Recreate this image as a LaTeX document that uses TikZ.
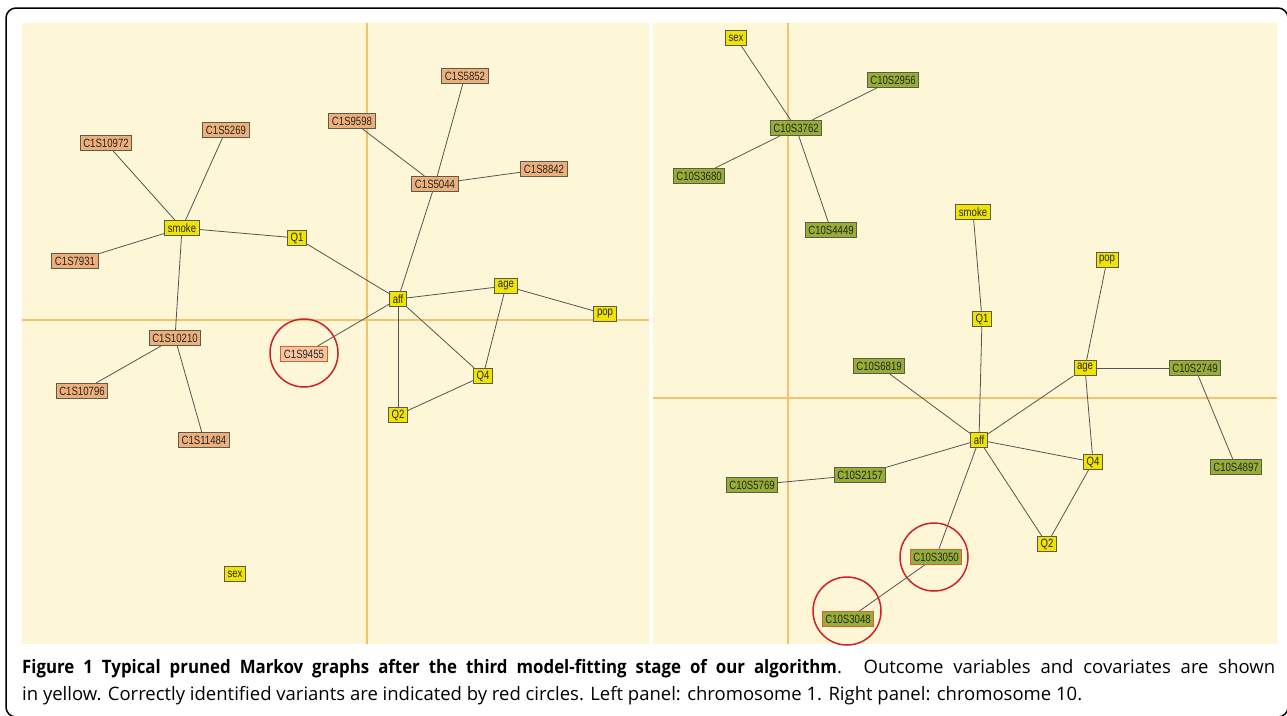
\documentclass[tikz,border=0pt]{standalone}
\usepackage{fontspec}
\setmainfont{Open Sans}[BoldFeatures={FakeStretch=0.91}]
\newfontfamily\boxfont[FakeStretch=0.8]{Liberation Sans}
\usepackage{tikz}
\definecolor{panelbg}{RGB}{253,247,215}
\definecolor{crossline}{RGB}{240,196,110}
\definecolor{covaryellow}{RGB}{240,228,0}
\definecolor{chronepeach}{RGB}{238,176,122}
\definecolor{hitpeach}{RGB}{248,198,160}
\definecolor{chrtengreen}{RGB}{150,174,52}
\definecolor{hitred}{RGB}{208,32,40}
\definecolor{hitedge}{RGB}{215,95,50}
\definecolor{boxline}{RGB}{90,90,80}
\definecolor{linkgray}{RGB}{85,85,80}
\tikzstyle{varnode}   = [draw=boxline, line width=1pt, font=\boxfont\fontsize{12}{12}\selectfont, inner xsep=3pt, inner ysep=0pt, minimum height=15pt, text=black!85]
\tikzstyle{covar}     = [varnode, fill=covaryellow]
\tikzstyle{snpone}    = [varnode, fill=chronepeach]
\tikzstyle{snpten}    = [varnode, fill=chrtengreen]
\tikzstyle{link}      = [draw=linkgray, line width=0.8pt]
\tikzstyle{ring}      = [draw=hitred, line width=1.5pt, circle, minimum size=68pt, inner sep=0pt]
\tikzstyle{cross}     = [draw=crossline, line width=1.5pt]
\tikzstyle{captext}   = [anchor=base west, inner sep=0pt, font=\fontsize{18.5}{22}\selectfont, text=black]

\begin{document}
\begin{tikzpicture}[x=1pt,y=-1pt]
		\useasboundingbox (0,0) rectangle (1287,715);
		\clip (0,0) rectangle (1287,715);
		\draw[line width=1.5pt, rounded corners=10pt] (6,8) rectangle (1288,717);

		% panels
		\fill[panelbg] (22,23) rectangle (649,644);
		\fill[panelbg] (653,23) rectangle (1277,644);
		\draw[cross] (367,23) -- (367,644);
		\draw[cross] (22,320) -- (649,320);
		\draw[cross] (788,23) -- (788,644);
		\draw[cross] (653,398) -- (1277,398);

		% left panel: chromosome 1
		\node[snpone] (c1s5852) at (465,76) {C1S5852};
		\node[snpone] (c1s9598) at (352,121) {C1S9598};
		\node[snpone] (c1s5269) at (226,130) {C1S5269};
		\node[snpone] (c1s10972) at (106,143) {C1S10972};
		\node[snpone] (c1s8842) at (544,169) {C1S8842};
		\node[snpone] (c1s5044) at (435,184) {C1S5044};
		\node[covar] (lsmoke) at (182,228) {smoke};
		\node[covar] (lqone) at (297,238) {Q1};
		\node[snpone] (c1s7931) at (75,261) {C1S7931};
		\node[covar] (laff) at (398,299) {aff};
		\node[covar] (lage) at (506,286) {age};
		\node[covar] (lpop) at (605,314) {pop};
		\node[snpone] (c1s10210) at (175,338) {C1S10210};
		\node[snpone, fill=hitpeach, draw=hitedge] (c1s9455) at (304,354) {C1S9455};
		\node[covar] (lqfour) at (483,376) {Q4};
		\node[snpone] (c1s10796) at (82,391) {C1S10796};
		\node[covar] (lqtwo) at (398,415) {Q2};
		\node[snpone] (c1s11484) at (204,440) {C1S11484};
		\node[covar] (lsex) at (235,574) {sex};

		\draw[link] (c1s10972) -- (lsmoke);
		\draw[link] (c1s5269) -- (lsmoke);
		\draw[link] (lsmoke) -- (c1s7931);
		\draw[link] (lsmoke) -- (lqone);
		\draw[link] (lsmoke) -- (c1s10210);
		\draw[link] (lqone) -- (laff);
		\draw[link] (c1s9598) -- (c1s5044);
		\draw[link] (c1s5852) -- (c1s5044);
		\draw[link] (c1s5044) -- (c1s8842);
		\draw[link] (c1s5044) -- (laff);
		\draw[link] (laff) -- (lage);
		\draw[link] (lage) -- (lpop);
		\draw[link] (lage) -- (lqfour);
		\draw[link] (laff) -- (lqfour);
		\draw[link] (laff) -- (lqtwo);
		\draw[link] (lqtwo) -- (lqfour);
		\draw[link] (laff) -- (c1s9455);
		\draw[link] (c1s10210) -- (c1s10796);
		\draw[link] (c1s10210) -- (c1s11484);

		% right panel: chromosome 10
		\node[covar] (rsex) at (736,38) {sex};
		\node[snpten] (c10s2956) at (893,80) {C10S2956};
		\node[snpten] (c10s3762) at (796,128) {C10S3762};
		\node[snpten] (c10s3680) at (699,176) {C10S3680};
		\node[snpten] (c10s4449) at (831,230) {C10S4449};
		\node[covar] (rsmoke) at (973,212) {smoke};
		\node[covar] (rpop) at (1107,260) {pop};
		\node[covar] (rqone) at (982,319) {Q1};
		\node[snpten] (c10s6819) at (879,366) {C10S6819};
		\node[covar] (rage) at (1085,368) {age};
		\node[snpten] (c10s2749) at (1195,368) {C10S2749};
		\node[covar] (raff) at (979,440) {aff};
		\node[covar] (rqfour) at (1093,462) {Q4};
		\node[snpten] (c10s4897) at (1236,467) {C10S4897};
		\node[snpten] (c10s2157) at (860,475) {C10S2157};
		\node[snpten] (c10s5769) at (752,485) {C10S5769};
		\node[covar] (rqtwo) at (1047,544) {Q2};
		\node[snpten, draw=hitedge] (c10s3050) at (936,557) {C10S3050};
		\node[snpten, draw=hitedge] (c10s3048) at (848,619) {C10S3048};

		\draw[link] (rsex) -- (c10s3762);
		\draw[link] (c10s2956) -- (c10s3762);
		\draw[link] (c10s3762) -- (c10s3680);
		\draw[link] (c10s3762) -- (c10s4449);
		\draw[link] (rsmoke) -- (rqone);
		\draw[link] (rqone) -- (raff);
		\draw[link] (rpop) -- (rage);
		\draw[link] (rage) -- (c10s2749);
		\draw[link] (c10s2749) -- (c10s4897);
		\draw[link] (rage) -- (raff);
		\draw[link] (rage) -- (rqfour);
		\draw[link] (c10s6819) -- (raff);
		\draw[link] (raff) -- (rqfour);
		\draw[link] (raff) -- (c10s2157);
		\draw[link] (c10s2157) -- (c10s5769);
		\draw[link] (raff) -- (rqtwo);
		\draw[link] (rqfour) -- (rqtwo);
		\draw[link] (raff) -- (c10s3050);
		\draw[link] (c10s3050) -- (c10s3048);

		% red circles
		\node[ring] (ringone) at (304,353) {};
		\node[ring] (ringtwo) at (934,557) {};
		\node[ring] (ringthree) at (847,611) {};

		% caption
		\node[captext] (capone) at (22,673) {\makebox[1253pt][s]{\textbf{Figure 1 Typical pruned Markov graphs after the third model-fitting stage of our algorithm}. Outcome variables and covariates are shown}};
		\node[captext] (captwo) at (22,700) {in yellow. Correctly identified variants are indicated by red circles. Left panel: chromosome 1. Right panel: chromosome 10.};
	\end{tikzpicture}
\end{document}
